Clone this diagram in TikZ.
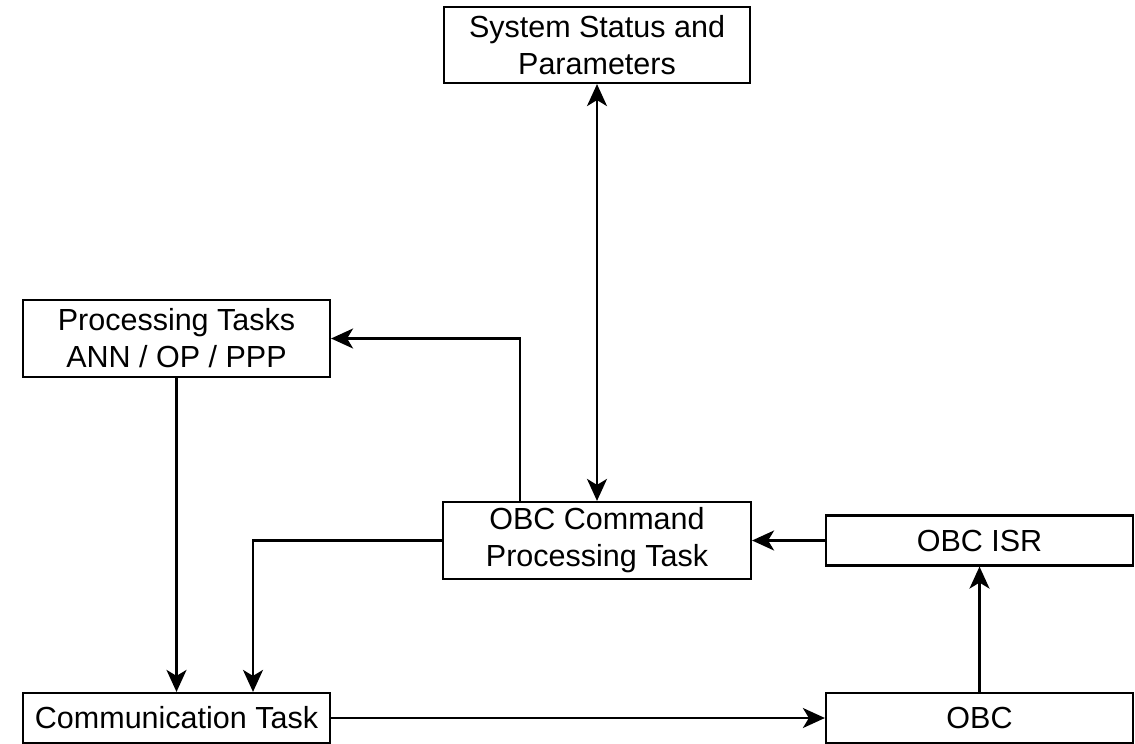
\documentclass[tikz,border=0pt]{standalone}
\usepackage{fontspec}
\setmainfont{Liberation Sans}
\usetikzlibrary{arrows.meta,calc}
\begin{document}
\begin{tikzpicture}[x=1pt,y=-1pt,
  box/.style={draw,line width=2.2pt,rectangle,align=center,inner sep=0pt,
    font=\fontsize{30.5}{37}\selectfont},
  tip/.tip={Stealth[length=22pt,width=20pt,inset=6pt]},
  arr/.style={line width=2.2pt,-tip},
  darr/.style={line width=2.2pt,tip-tip}]
\useasboundingbox (0,0) rectangle (1135,744);
\node[box,minimum width=306pt,minimum height=76pt] (sys) at (597,45) {System Status and\\Parameters};
\node[box,minimum width=307pt,minimum height=77pt] (proc) at (176.5,338.5) {Processing Tasks\\ANN / OP / PPP};
\node[box,minimum width=308pt,minimum height=77pt] (cmd) at (597,540.5) {OBC Command\\Processing Task};
\node[box,minimum width=307pt,minimum height=50pt] (isr) at (979.5,540.5) {OBC ISR};
\node[box,minimum width=307pt,minimum height=50pt] (comm) at (176.5,718) {Communication Task};
\node[box,minimum width=307pt,minimum height=50pt] (obc) at (979.5,718) {OBC};
\draw[darr] (sys.south) -- (cmd.north);
\draw[arr] ([xshift=-77pt]cmd.north) |- (proc.east);
\draw[arr] (proc.south) -- (comm.north);
\draw[arr] (cmd.west) -| ([xshift=76.5pt]comm.north);
\draw[arr] (isr.west) -- (cmd.east);
\draw[arr] (obc.north) -- (isr.south);
\draw[arr] (comm.east) -- (obc.west);
\end{tikzpicture}
\end{document}
